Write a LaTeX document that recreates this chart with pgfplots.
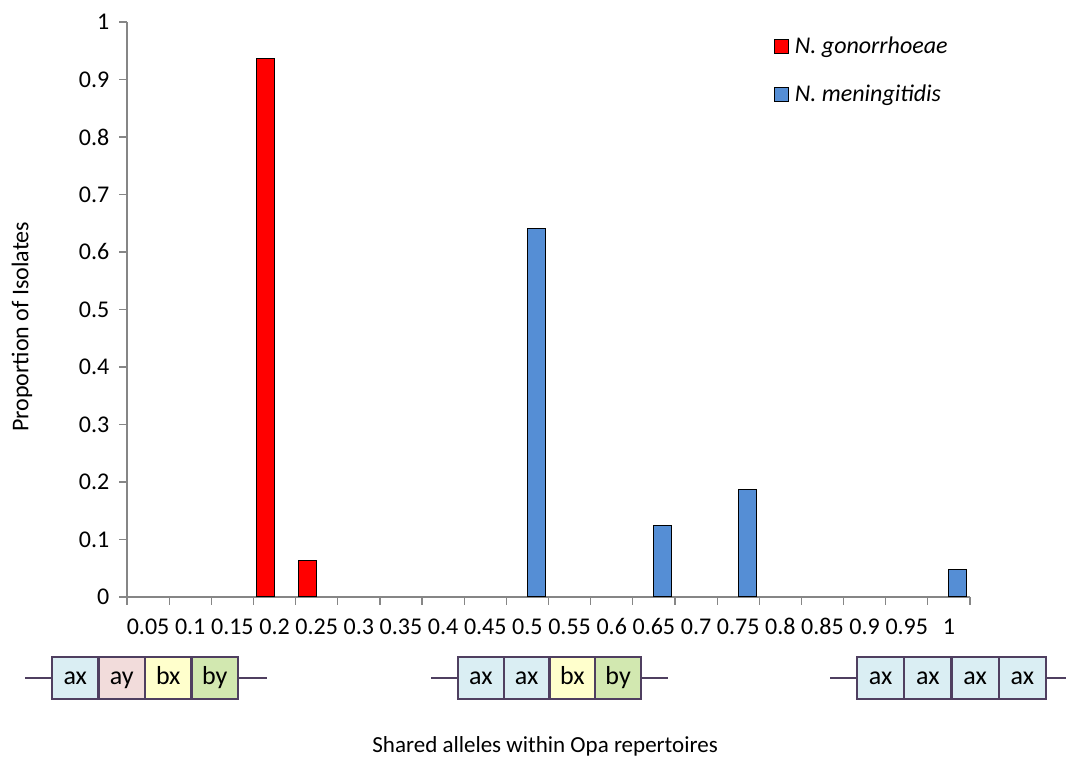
\documentclass[border=0pt]{standalone}
\usepackage{pgfplots}
\pgfplotsset{compat=1.18}
\usepackage{fontspec}
\setmainfont{Carlito}
\definecolor{gred}{HTML}{FF0000}
\definecolor{gblue}{HTML}{558ED5}
\definecolor{axgray}{HTML}{868686}
\definecolor{gborder}{HTML}{4F3F60}
\definecolor{cax}{HTML}{DAEEF3}
\definecolor{cay}{HTML}{F2DCDB}
\definecolor{cbx}{HTML}{FFFFCC}
\definecolor{cby}{HTML}{D2E8B0}
\pgfplotsset{sqlegend/.style={legend image code/.code={\draw[##1] (0pt,-3.5pt) rectangle (7pt,3.5pt);}}}
\newcommand\cell[4]{%
  \draw[fill=#3, draw=gborder, line width=1.1pt] (#1,59) rectangle (#2,101);
  \node[font=\fontsize{13}{15}\selectfont, inner sep=0pt, anchor=base] at ({(#1+#2)/2},73) {#4};}
\begin{document}
\begin{tikzpicture}[x=0.5pt,y=0.5pt]
\begin{axis}[
  at={(63.5pt,80.5pt)}, anchor=south west,
  scale only axis, width=421.5pt, height=287.5pt,
  xmin=-0.5, xmax=19.5, ymin=0, ymax=1,
  ybar=0pt, bar width=9pt,
  axis x line*=bottom, axis y line*=left,
  axis line style={draw=axgray, line width=0.6pt},
  every tick/.style={draw=axgray, line width=0.6pt},
  tick align=outside,
  major tick length=3.8pt,
  ytick={0,0.1,0.2,0.3,0.4,0.5,0.6,0.7,0.8,0.9,1},
  yticklabels={0,0.1,0.2,0.3,0.4,0.5,0.6,0.7,0.8,0.9,1},
  xtick={-0.5,0.5,...,19.5},
  xticklabels={},
  extra x ticks={0,...,19},
  extra x tick labels={0.05,0.1,0.15,0.2,0.25,0.3,0.35,0.4,0.45,0.5,0.55,0.6,0.65,0.7,0.75,0.8,0.85,0.9,0.95,1},
  extra x tick style={tick style={draw=none}},
  /pgf/number format/assume math mode=true,
  tick label style={font=\fontsize{12}{14}\selectfont},
  xticklabel style={text height=1.6ex, text depth=0.3ex, yshift=-4pt},
  yticklabel style={xshift=-1.5pt},
  ylabel={Proportion of Isolates},
  ylabel style={at={(axis description cs:-0.1246,0.47)}, anchor=center, font=\fontsize{12}{14}\selectfont},
  xlabel={Shared alleles within Opa repertoires},
  xlabel style={at={(axis description cs:0.496,-0.259)}, anchor=center, font=\fontsize{11.5}{13}\selectfont},
  legend style={at={(axis description cs:0.767,0.982)}, anchor=north west, draw=none, fill=none,
    font=\itshape\fontsize{12}{14}\selectfont, row sep=10pt, inner sep=0pt,
    nodes={inner xsep=3pt}},
  legend cell align=left,
  clip=false,
]
\addplot[fill=gred, draw=black, line width=0.5pt, sqlegend]
  coordinates {(3,0.9365) (4,0.0635)};
\addlegendentry{N. gonorrhoeae}
\addplot[fill=gblue, draw=black, line width=0.5pt, sqlegend]
  coordinates {(9,0.64) (12,0.125) (14,0.1875) (19,0.047)};
\addlegendentry{N. meningitidis}
\end{axis}
% gene diagrams
\draw[gborder, line width=1.3pt] (25,80)--(52,80) (238,80)--(267,80);
\cell{52}{98.5}{cax}{ax}
\cell{98.5}{145}{cay}{ay}
\cell{145}{191.5}{cbx}{bx}
\cell{191.5}{238}{cby}{by}
\draw[gborder, line width=1.3pt] (431,80)--(458,80) (641,80)--(668,80);
\cell{458}{503.75}{cax}{ax}
\cell{503.75}{549.5}{cax}{ax}
\cell{549.5}{595.25}{cbx}{bx}
\cell{595.25}{641}{cby}{by}
\draw[gborder, line width=1.3pt] (830,80)--(857,80) (1046,80)--(1066,80);
\cell{857}{904.25}{cax}{ax}
\cell{904.25}{951.5}{cax}{ax}
\cell{951.5}{998.75}{cax}{ax}
\cell{998.75}{1046}{cax}{ax}
\pgfresetboundingbox
\path[use as bounding box] (0,0) rectangle (1066,758);
\end{tikzpicture}
\end{document}
